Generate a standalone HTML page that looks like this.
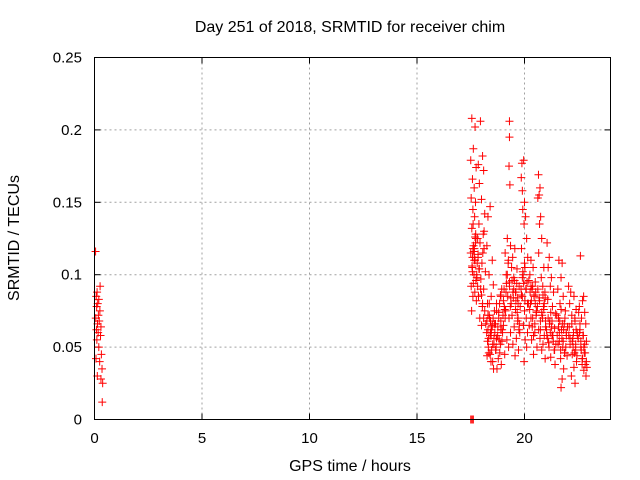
<!DOCTYPE html>
<html><head><meta charset="utf-8"><style>
body{margin:0;background:#fff}
svg{display:block;font-family:"Liberation Sans",sans-serif;font-size:15px}
.ttl{font-size:16px}
</style></head><body>
<svg id="chart" width="640" height="480" viewBox="0 0 640 480">
<text class="ttl" x="350" y="32" text-anchor="middle">Day 251 of 2018, SRMTID for receiver chim</text>
<g id="grid"></g>
<g id="axes"></g>
<g id="pts"></g>
<rect x="94.5" y="57.5" width="516" height="362" fill="none" stroke="#000" stroke-width="1"/>
<text class="ttl" x="350" y="471" text-anchor="middle">GPS time / hours</text>
<text class="ttl" x="19" y="238" text-anchor="middle" transform="rotate(-90 19 238)">SRMTID / TECUs</text>
</svg>
<script>
const xTicks=[0,5,10,15,20];
const yTicks=[0,0.05,0.1,0.15,0.2,0.25];
const yTickLabels=["0","0.05","0.1","0.15","0.2","0.25"];
const hours=[
0.05,0.12,0.08,0.2,0.15,0.1,0.25,0.18,0.06,0.22,0.14,0.3,0.09,0.17,0.28,0.11,0.2,0.32,0.07,0.24,0.35,0.13,0.3,0.38,0.36,0.26,
17.5,17.55,17.6,17.62,
17.55,17.7,17.62,17.5,17.75,17.58,17.66,17.52,17.72,17.6,17.68,17.55,17.74,17.63,17.5,17.7,17.57,17.65,17.78,17.52,17.69,17.6,17.76,17.54,17.67,17.73,17.61,17.58,
17.95,18.05,17.85,18.1,17.9,18.0,18.15,17.88,18.08,17.93,18.12,17.84,18.02,18.18,17.97,18.1,17.86,18.05,18.15,17.92,18.0,17.82,18.12,18.06,
18.4,18.3,18.25,18.5,18.35,18.55,18.45,18.28,18.6,18.38,18.5,18.42,18.33,18.58,18.47,18.4,18.52,18.56,18.3,18.45,18.25,18.36,
18.7,18.8,18.65,18.9,18.75,18.95,18.68,18.85,18.78,18.92,18.72,18.98,18.82,18.66,18.88,18.76,18.7,18.9,
19.3,19.3,19.28,19.32,19.2,19.35,19.1,19.25,19.4,19.15,19.3,19.05,19.22,19.38,19.12,19.28,19.02,19.35,19.18,19.26,19.08,
19.55,19.45,19.65,19.5,19.75,19.6,19.48,19.7,19.58,19.42,19.68,19.52,19.78,19.62,19.46,19.72,19.56,
19.88,19.96,19.85,19.9,20.0,19.92,20.05,19.98,20.1,19.86,20.15,20.02,19.94,20.12,20.06,19.9,20.18,20.0,20.08,19.95,20.14,20.03,20.1,19.98,
20.3,20.4,20.25,20.5,20.35,20.45,20.28,20.55,20.38,20.22,20.48,20.33,20.58,20.42,20.3,20.52,
20.65,20.72,20.68,20.62,20.75,20.7,20.8,20.66,20.9,20.78,20.85,20.95,20.7,20.88,20.82,20.98,20.74,20.92,20.86,20.8,20.96,
21.05,21.15,21.1,21.25,21.2,21.35,21.08,21.3,21.45,21.18,21.4,21.28,21.12,21.38,21.22,21.42,
21.6,21.75,21.7,21.55,21.8,21.65,21.9,21.58,21.85,21.72,21.95,21.62,21.78,21.88,21.68,21.82,21.75,21.7,
22.05,22.15,22.3,22.1,22.4,22.2,22.35,22.08,22.45,22.25,22.12,22.38,22.22,22.42,22.3,22.18,22.35,
22.6,22.75,22.7,22.55,22.8,22.65,22.85,22.58,22.72,22.88,22.62,22.78,22.68,22.82,22.76,22.86,
17.6,17.68,17.56,17.72,17.64,17.8,17.58,17.7,17.84,17.62,17.9,17.66,17.78,17.96,17.74,18.0,17.88,18.04,17.82,18.1,
18.2,18.3,18.24,18.36,18.28,18.42,18.32,18.46,18.26,18.4,18.52,18.34,18.48,18.58,18.44,18.62,18.54,18.66,18.7,18.6,
18.8,18.9,18.84,18.96,19.0,18.88,19.06,18.94,19.1,19.02,19.16,19.08,19.2,19.14,19.24,19.3,19.36,19.42,19.34,19.46,
19.5,19.6,19.54,19.66,19.58,19.7,19.64,19.76,19.68,19.8,19.74,19.84,19.9,19.86,19.96,20.02,19.92,20.08,20.0,20.14,
20.2,20.26,20.32,20.24,20.38,20.3,20.44,20.36,20.5,20.42,20.56,20.48,20.62,20.54,20.68,20.6,20.74,20.66,20.8,20.72,
20.86,20.92,20.84,20.98,20.9,21.04,20.96,21.1,21.02,21.16,21.08,21.22,21.14,21.28,21.2,21.34,21.26,21.4,21.32,21.46,
21.5,21.58,21.52,21.64,21.56,21.7,21.62,21.76,21.68,21.82,21.74,21.88,21.8,21.94,21.86,22.0,21.92,22.06,21.98,22.12,
22.2,22.28,22.22,22.34,22.26,22.4,22.32,22.46,22.38,22.52,22.44,22.58,22.5,22.64,22.56,22.7,22.62,22.76,22.68,22.82,22.74,22.88,22.8,22.9
];
const values=[
0.116,0.088,0.085,0.083,0.080,0.078,0.075,0.072,0.070,0.068,0.066,0.064,0.062,0.060,0.058,0.055,0.050,0.045,0.042,0.040,0.035,0.030,0.028,0.025,0.012,0.092,
0,0,0,0,
0.208,0.202,0.187,0.179,0.174,0.166,0.160,0.153,0.150,0.145,0.140,0.132,0.125,0.120,0.115,0.110,0.105,0.100,0.098,0.092,0.088,0.085,0.082,0.075,0.118,0.128,0.135,0.112,
0.206,0.182,0.176,0.172,0.163,0.152,0.142,0.135,0.128,0.122,0.118,0.112,0.108,0.102,0.097,0.090,0.085,0.080,0.075,0.070,0.065,0.125,0.130,0.115,
0.147,0.140,0.120,0.110,0.100,0.093,0.085,0.080,0.075,0.070,0.065,0.060,0.056,0.052,0.048,0.045,0.040,0.035,0.062,0.058,0.068,0.072,
0.075,0.070,0.066,0.062,0.058,0.054,0.050,0.046,0.042,0.038,0.035,0.060,0.055,0.048,0.052,0.064,0.080,0.085,
0.206,0.195,0.175,0.162,0.125,0.120,0.115,0.110,0.105,0.100,0.095,0.090,0.085,0.080,0.075,0.070,0.065,0.060,0.055,0.050,0.045,
0.118,0.112,0.104,0.098,0.092,0.088,0.084,0.080,0.076,0.072,0.068,0.064,0.060,0.056,0.052,0.048,0.044,
0.177,0.179,0.167,0.158,0.150,0.145,0.140,0.135,0.125,0.118,0.112,0.105,0.100,0.095,0.090,0.085,0.080,0.075,0.070,0.065,0.060,0.055,0.050,0.040,
0.110,0.105,0.100,0.095,0.090,0.085,0.080,0.075,0.070,0.065,0.060,0.055,0.050,0.045,0.092,0.088,
0.169,0.160,0.155,0.153,0.140,0.135,0.125,0.115,0.105,0.098,0.092,0.088,0.082,0.078,0.072,0.068,0.062,0.058,0.052,0.048,0.042,
0.122,0.112,0.105,0.098,0.092,0.088,0.083,0.078,0.073,0.068,0.063,0.058,0.053,0.048,0.043,0.038,
0.110,0.108,0.098,0.090,0.085,0.080,0.075,0.070,0.066,0.062,0.058,0.054,0.050,0.046,0.042,0.035,0.028,0.022,
0.092,0.088,0.085,0.080,0.076,0.072,0.068,0.064,0.060,0.056,0.052,0.048,0.045,0.040,0.036,0.030,0.025,
0.113,0.085,0.082,0.078,0.074,0.070,0.066,0.062,0.058,0.054,0.050,0.046,0.042,0.038,0.034,0.030,
0.118,0.112,0.106,0.122,0.116,0.108,0.102,0.126,0.114,0.094,0.104,0.110,0.100,0.090,0.096,0.086,0.104,0.078,0.092,0.070,
0.066,0.072,0.060,0.080,0.054,0.068,0.050,0.062,0.044,0.058,0.052,0.046,0.064,0.056,0.040,0.060,0.070,0.048,0.056,0.066,
0.074,0.068,0.080,0.062,0.072,0.086,0.078,0.090,0.070,0.082,0.094,0.076,0.100,0.088,0.108,0.092,0.084,0.096,0.078,0.088,
0.090,0.082,0.096,0.074,0.088,0.070,0.094,0.066,0.084,0.078,0.062,0.090,0.098,0.086,0.094,0.082,0.102,0.090,0.108,0.080,
0.096,0.088,0.082,0.076,0.092,0.070,0.086,0.064,0.080,0.058,0.074,0.066,0.090,0.072,0.084,0.078,0.068,0.062,0.074,0.056,
0.086,0.080,0.070,0.064,0.076,0.058,0.084,0.070,0.062,0.066,0.056,0.074,0.050,0.068,0.060,0.054,0.064,0.048,0.058,0.052,
0.072,0.064,0.058,0.068,0.052,0.076,0.060,0.066,0.048,0.062,0.056,0.070,0.054,0.060,0.046,0.064,0.050,0.058,0.044,0.056,
0.066,0.060,0.054,0.070,0.050,0.062,0.046,0.058,0.052,0.074,0.044,0.066,0.056,0.048,0.060,0.042,0.054,0.050,0.038,0.046,0.058,0.040,0.052,0.036
];
const X0=94.5,X1=610.5,Y0=419.5,Y1=57.5,XMAX=24,YMAX=0.25;
const xs=h=>X0+(X1-X0)*h/XMAX;
const ys=v=>Y0-(Y0-Y1)*v/YMAX;
const NS="http://www.w3.org/2000/svg";
function mk(tag,attrs,parent){const e=document.createElementNS(NS,tag);for(const k in attrs)e.setAttribute(k,attrs[k]);parent.appendChild(e);return e;}
const grid=document.getElementById('grid'),axes=document.getElementById('axes'),pts=document.getElementById('pts');
xTicks.forEach(t=>{
  const x=xs(t);
  if(t>0){const g=mk('line',{x1:x,x2:x,y1:Y1,y2:Y0,stroke:'#a0a0a0','stroke-dasharray':'2,3'},grid);
  
  }
  mk('line',{x1:x,x2:x,y1:Y0,y2:Y0-6,stroke:'#000'},axes);
  mk('line',{x1:x,x2:x,y1:Y1,y2:Y1+6,stroke:'#000'},axes);
  const tx=mk('text',{x:x,y:443,'text-anchor':'middle'},axes);tx.textContent=t;
  
  
});
yTicks.forEach((t,i)=>{
  const y=ys(t);
  if(t>0&&t<YMAX){const g=mk('line',{x1:X0,x2:X1,y1:y,y2:y,stroke:'#a0a0a0','stroke-dasharray':'2,3'},grid);
  
  }
  mk('line',{x1:X0,x2:X0+6,y1:y,y2:y,stroke:'#000'},axes);
  mk('line',{x1:X1,x2:X1-6,y1:y,y2:y,stroke:'#000'},axes);
  const tx=mk('text',{x:82,y:y+5,'text-anchor':'end'},axes);tx.textContent=yTickLabels[i];
  
  
});
hours.forEach((h,i)=>{
  const x=xs(h),y=ys(values[i]);
  const p=mk('path',{d:`M${x-4},${y}h8M${x},${y-4}v8`,stroke:'#f00','stroke-width':1},pts);
  
  
});
</script>
</body></html>
